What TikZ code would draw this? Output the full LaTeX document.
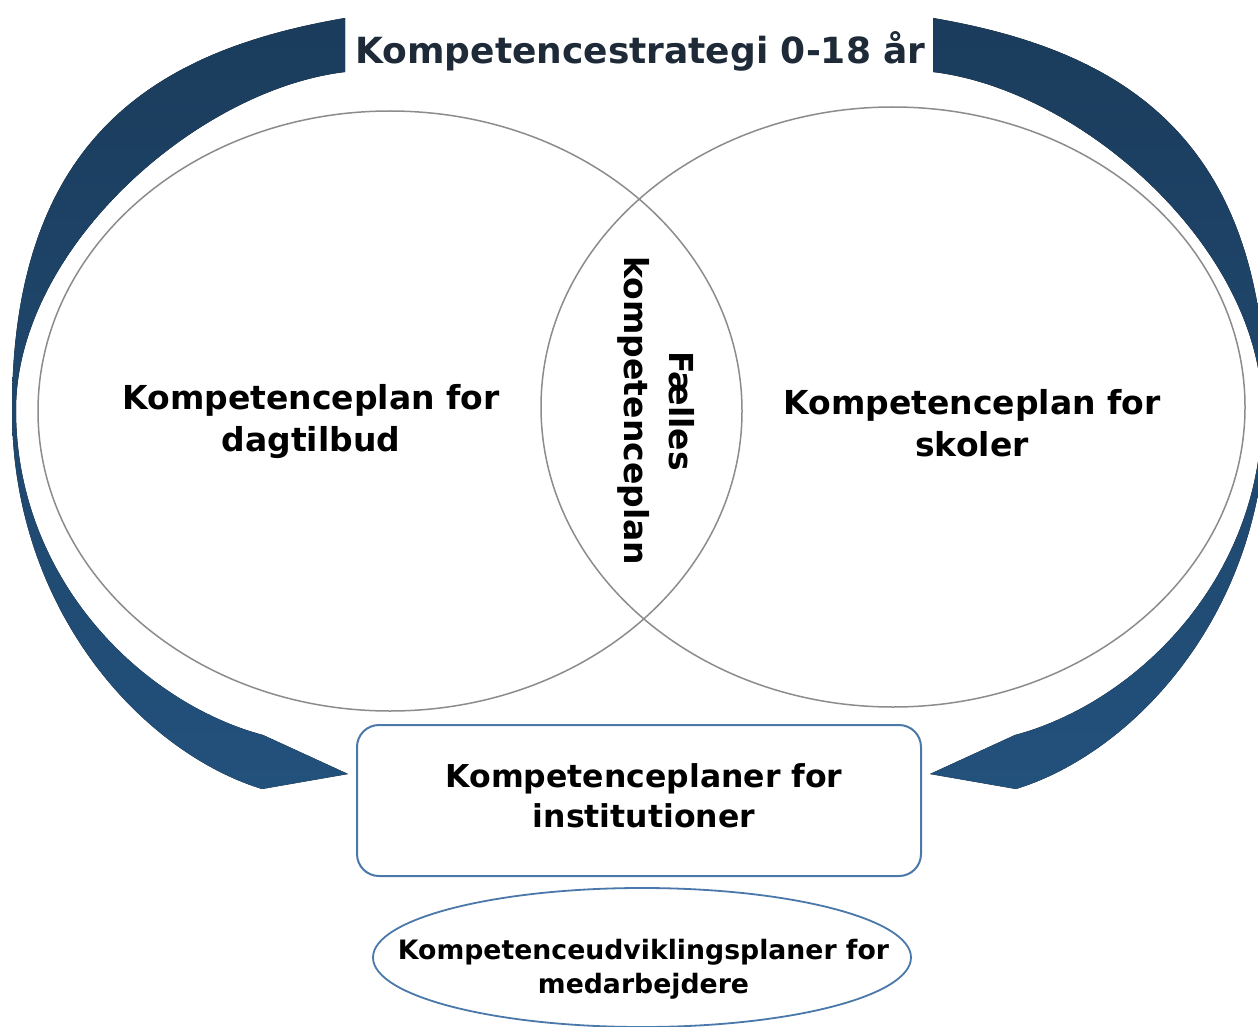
\documentclass[tikz,border=0pt]{standalone}
\usepackage{fontspec}
\setmainfont{DejaVu Sans}
\usetikzlibrary{shapes.geometric}
\definecolor{bandtop}{RGB}{27,60,92}
\definecolor{bandbot}{RGB}{34,81,124}
\definecolor{titlecol}{RGB}{30,42,56}
\definecolor{ringgray}{RGB}{140,140,140}
\definecolor{boxblue}{RGB}{74,120,170}
\tikzset{
  band/.style={top color=bandtop, bottom color=bandbot, draw=none},
  ring/.style={draw=ringgray, line width=1.5pt, ellipse, inner sep=0pt, minimum width=704pt, minimum height=600pt},
  lbl/.style={font=\bfseries\fontsize{33}{42}\selectfont, align=center, inner sep=0pt, text=black},
  instbox/.style={draw=boxblue, line width=2pt, rounded corners=22pt, minimum width=564pt, minimum height=151pt, inner sep=0pt},
  staffell/.style={draw=boxblue, line width=1.8pt, ellipse, inner sep=0pt, minimum width=538pt, minimum height=139pt},
}
\begin{document}
\begin{tikzpicture}[x=1pt,y=-1pt]
\useasboundingbox[fill=white] (0,0) rectangle (1258,1027);
% left band
\fill[band] (345,18) .. controls (165,49) and (12,130) .. (12,410)
  .. controls (12,610) and (142,752) .. (262,789)
  -- (348,774) -- (263,735)
  .. controls (143,703) and (16,580) .. (16,410)
  .. controls (16,250) and (195,90) .. (345,72) -- cycle;
% right band (mirror)
\begin{scope}[xshift=1278pt, xscale=-1]
\fill[band] (345,18) .. controls (165,49) and (12,130) .. (12,410)
  .. controls (12,610) and (142,752) .. (262,789)
  -- (348,774) -- (263,735)
  .. controls (143,703) and (16,580) .. (16,410)
  .. controls (16,250) and (195,90) .. (345,72) -- cycle;
\end{scope}
\node[anchor=base, inner sep=0pt, text=titlecol, font=\bfseries\fontsize{36}{42}\selectfont] (title) at (640.5,64) {Kompetencestrategi 0-18 år};
% rings
\node[ring] (leftring) at (390,411) {};
\node[ring] (rightring) at (893,407) {};
\node[lbl] (dag) at (311,422) {Kompetenceplan for\\dagtilbud};
\node[lbl] (skole) at (972,423.5) {Kompetenceplan for\\skoler};
\node[lbl, rotate=-90, font=\bfseries\fontsize{33}{45}\selectfont] (faelles) at (656.5,411) {Fælles\\kompetenceplan};
% institutions box
\node[instbox] (inst) at (639,800.5) {};
\node[lbl, font=\bfseries\fontsize{31.5}{40}\selectfont] (insttxt) at (644,795.5) {Kompetenceplaner for\\institutioner};
% staff ellipse
\node[staffell] (staff) at (642,957.5) {};
\node[lbl, font=\bfseries\fontsize{26.7}{34}\selectfont] (stafftxt) at (643.5,969) {Kompetenceudviklingsplaner for\\medarbejdere};
\end{tikzpicture}
\end{document}
